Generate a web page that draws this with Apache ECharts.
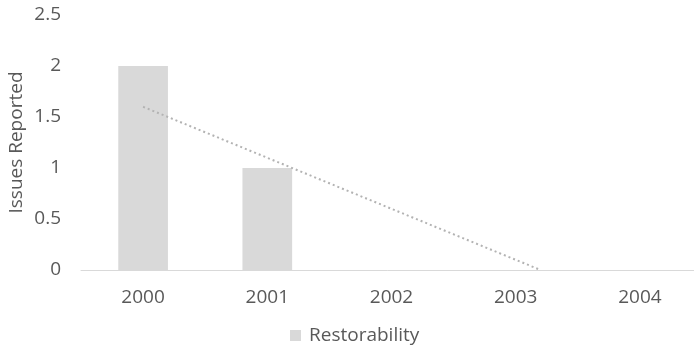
<!DOCTYPE html>
<html>
<head>
<meta charset="utf-8">
<script src="https://cdn.jsdelivr.net/npm/echarts@6/dist/echarts.min.js"></script>
<style>
  html, body { margin: 0; padding: 0; background: #fff; }
  #chart { width: 694px; height: 351px; }
</style>
</head>
<body>
<div id="chart"></div>
<script>
// Yearly counts of reported issues
const years = ['2000', '2001', '2002', '2003', '2004'];
const restorability = [2, 1, 0, 0, 0];
// Linear trend line end points: [year, value]
const trendPoints = [[2000, 1.6], [2003.2, 0]];
const yTicks = [0, 0.5, 1, 1.5, 2, 2.5];

const font = '"Open Sans", "Noto Sans", sans-serif';
const textColor = '#595959';

const chart = echarts.init(document.getElementById('chart'));
chart.setOption({
  animation: false,
  grid: { left: 81, right: -8, top: 15, bottom: 81, outerBoundsMode: 'none' },
  legend: {
    data: [{ name: 'Restorability', icon: 'rect' }],
    bottom: 1,
    left: 285,
    itemWidth: 11,
    itemHeight: 11,
    itemGap: 7,
    textStyle: { color: textColor, fontSize: 19, fontFamily: font, padding: [0, 0, 0, 3] }
  },
  xAxis: [
    {
      type: 'category',
      data: years,
      axisTick: { show: false },
      axisLine: { lineStyle: { color: '#d9d9d9', width: 1 } },
      axisLabel: { color: textColor, fontSize: 19, fontFamily: font, margin: 18 }
    },
    {
      type: 'value',
      min: 1999.5,
      max: 2004.5,
      show: false
    }
  ],
  yAxis: {
    type: 'value',
    min: 0,
    max: 2.5,
    interval: 0.5,
    name: 'Issues Reported',
    nameLocation: 'middle',
    nameGap: 55,
    nameMoveOverlap: false,
    nameTextStyle: { color: textColor, fontSize: 19, fontFamily: font },
    axisLine: { show: false },
    axisTick: { show: false },
    splitLine: { show: false },
    axisLabel: {
      color: textColor, fontSize: 19, fontFamily: font, margin: 20,
      formatter: v => yTicks.includes(v) ? String(v) : ''
    }
  },
  series: [
    {
      name: 'Restorability',
      type: 'bar',
      data: restorability,
      barWidth: '40%',
      itemStyle: { color: '#d9d9d9' }
    },
    {
      name: 'Trend',
      type: 'line',
      xAxisIndex: 1,
      data: trendPoints,
      symbol: 'none',
      lineStyle: { color: '#b3b3b3', width: 2, type: [2, 3] },
      z: 5
    }
  ]
});
</script>
</body>
</html>
